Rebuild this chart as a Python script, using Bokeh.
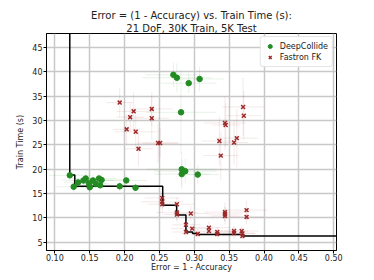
import numpy as np
from bokeh.plotting import figure
from bokeh.models import Range1d, FixedTicker, NumeralTickFormatter, ColumnDataSource, Legend, LegendItem, Title
from bokeh.embed import file_html
from bokeh.resources import INLINE

# DeepCollide: error, train time, error bars
dc_err = [0.1214, 0.127, 0.1333, 0.141, 0.1443, 0.149, 0.150, 0.1547, 0.1586, 0.1633, 0.167, 0.165, 0.193, 0.2024, 0.2157,
          0.270, 0.275, 0.292, 0.3076, 0.281,
          0.282, 0.282, 0.287, 0.305]
dc_time = [18.75, 16.4, 17.3, 17.7, 18.1, 17.1, 16.3, 17.7, 17.0, 18.1, 17.8, 16.7, 16.5, 17.7, 16.2,
           39.4, 38.8, 37.7, 38.55, 31.7,
           20.0, 19.0, 19.6, 18.9]
dc_xerr = [0.03, 0.025, 0.02, 0.03, 0.02, 0.025, 0.02, 0.03, 0.02, 0.025, 0.03, 0.02, 0.02, 0.03, 0.02,
           0.04, 0.05, 0.04, 0.035, 0.05,
           0.05, 0.04, 0.045, 0.03]
dc_yerr = [1.0, 1.2, 0.8, 1.0, 1.5, 0.8, 1.0, 1.2, 0.9, 1.0, 1.3, 0.8, 1.0, 1.2, 0.9,
           2.5, 3.0, 2.0, 2.5, 8.5,
           3.5, 3.0, 2.5, 2.0]

# Fastron FK
ff_err = [0.193, 0.213, 0.239, 0.208, 0.239, 0.203, 0.216, 0.248, 0.251, 0.220,
          0.370, 0.371, 0.344, 0.345, 0.336, 0.361, 0.357, 0.338,
          0.254, 0.254, 0.254, 0.275, 0.275, 0.275, 0.295, 0.288, 0.297, 0.288, 0.305,
          0.321, 0.321, 0.333, 0.333, 0.344, 0.344, 0.344, 0.375, 0.375, 0.357, 0.357,
          0.368, 0.369, 0.369]
ff_time = [33.7, 31.9, 32.4, 30.7, 30.5, 28.2, 27.7, 25.4, 25.4, 24.2,
           32.8, 31.0, 29.5, 29.1, 25.8, 26.4, 25.5, 22.8,
           14.1, 13.3, 12.8, 12.8, 11.1, 10.7, 10.9, 8.6, 7.8, 7.1, 6.7,
           8.0, 7.3, 7.1, 6.7, 11.2, 10.8, 10.4, 11.6, 10.2, 7.3, 6.9,
           7.3, 6.8, 6.3]
ff_xerr = [0.02, 0.025, 0.03, 0.02, 0.025, 0.02, 0.03, 0.03, 0.025, 0.02,
           0.03, 0.025, 0.03, 0.02, 0.025, 0.03, 0.02, 0.025,
           0.025, 0.03, 0.02, 0.025, 0.03, 0.02, 0.025, 0.02, 0.03, 0.02, 0.025,
           0.03, 0.02, 0.025, 0.03, 0.03, 0.025, 0.02, 0.03, 0.025, 0.02, 0.03,
           0.025, 0.02, 0.03]
ff_yerr = [3.0, 4.0, 3.5, 3.0, 4.5, 3.0, 3.5, 4.0, 3.0, 3.5,
           6.0, 5.0, 5.5, 4.5, 5.0, 6.0, 4.5, 5.0,
           2.0, 1.5, 1.8, 1.5, 2.0, 1.2, 1.5, 1.5, 1.2, 1.0, 1.0,
           1.2, 1.0, 1.0, 0.8, 2.0, 1.5, 1.8, 2.0, 1.5, 1.0, 1.2,
           1.0, 0.8, 0.8]

# Pareto front corner points
front_x = [0.1214, 0.1214, 0.1286, 0.2547, 0.2747, 0.288, 0.2976, 0.305, 0.369, 0.60]
front_y = [60.0, 18.8, 16.5, 12.6, 10.6, 7.1, 6.8, 6.6, 6.3, 6.3]

x_ticks = [0.10, 0.15, 0.20, 0.25, 0.30, 0.35, 0.40, 0.45, 0.50]
y_ticks = [5, 10, 15, 20, 25, 30, 35, 40, 45]

title_line1 = "Error = (1 - Accuracy) vs. Train Time (s):"
title_line2 = "21 DoF, 30K Train, 5K Test"

FONT = "DejaVu Sans"
GREEN = "#228b22"
RED = "#9e2a2a"

p = figure(width=358, height=278, output_backend="svg", toolbar_location=None,
           x_range=Range1d(0.088, 0.504), y_range=Range1d(3.3, 47.9),
           min_border_left=46, min_border_right=22, min_border_bottom=28, min_border_top=33,
           title=title_line1)
p.title.align = "center"
p.title.text_font = FONT
p.title.text_font_size = "10px"
p.title.text_font_style = "normal"
p.title.text_color = "#222222"
p.title.standoff = 0
t2 = Title(text=title_line2, align="center", text_font=FONT, text_font_size="10px",
           text_font_style="normal", text_color="#222222", standoff=0)
p.add_layout(t2, "above")

p.outline_line_color = "black"
p.outline_line_width = 1
p.background_fill_color = "white"
p.border_fill_color = "white"

for g in (p.xgrid, p.ygrid):
    g.grid_line_color = "#c8c8c8"
    g.grid_line_width = 1.5
p.xgrid.ticker = FixedTicker(ticks=x_ticks)
p.ygrid.ticker = FixedTicker(ticks=y_ticks)

p.xaxis.ticker = FixedTicker(ticks=x_ticks)
p.yaxis.ticker = FixedTicker(ticks=y_ticks)
p.xaxis.formatter = NumeralTickFormatter(format="0.00")
for ax in (p.xaxis, p.yaxis):
    ax.axis_line_color = "black"
    ax.major_tick_line_color = "black"
    ax.minor_tick_line_color = None
    ax.major_tick_in = 0
    ax.major_tick_out = 3
    ax.major_label_text_font = FONT
    ax.major_label_text_font_size = "8px"
    ax.major_label_text_color = "#222222"
    ax.axis_label_text_font = FONT
    ax.axis_label_text_font_size = "8px"
    ax.axis_label_text_font_style = "normal"
    ax.axis_label_text_color = "#222222"
    ax.major_label_standoff = 1
    ax.axis_label_standoff = 1
p.xaxis.major_label_standoff = 0
p.xaxis.axis_label_standoff = -1
p.yaxis.axis_label_standoff = 4
p.xaxis.axis_label = "Error = 1 - Accuracy"
p.yaxis.axis_label = "Train Time (s)"

dc = ColumnDataSource(dict(x=dc_err, y=dc_time,
                           x0=np.array(dc_err) - np.array(dc_xerr), x1=np.array(dc_err) + np.array(dc_xerr),
                           y0=np.array(dc_time) - np.array(dc_yerr), y1=np.array(dc_time) + np.array(dc_yerr)))
ff = ColumnDataSource(dict(x=ff_err, y=ff_time,
                           x0=np.array(ff_err) - np.array(ff_xerr), x1=np.array(ff_err) + np.array(ff_xerr),
                           y0=np.array(ff_time) - np.array(ff_yerr), y1=np.array(ff_time) + np.array(ff_yerr)))

p.segment(x0="x0", y0="y", x1="x1", y1="y", source=dc, line_color=GREEN, line_alpha=0.1, line_width=1)
p.segment(x0="x", y0="y0", x1="x", y1="y1", source=dc, line_color=GREEN, line_alpha=0.1, line_width=1)
p.segment(x0="x0", y0="y", x1="x1", y1="y", source=ff, line_color=RED, line_alpha=0.1, line_width=1)
p.segment(x0="x", y0="y0", x1="x", y1="y1", source=ff, line_color=RED, line_alpha=0.1, line_width=1)

p.step(front_x, front_y, mode="after", line_color="black", line_width=1.5)

r_dc = p.scatter("x", "y", source=dc, marker="circle", size=5.5, fill_color=GREEN, line_color=GREEN)
r_ff = p.scatter("x", "y", source=ff, marker="x", size=5.5, line_color=RED, line_width=1.5)

legend = Legend(items=[LegendItem(label="DeepCollide", renderers=[r_dc]),
                       LegendItem(label="Fastron FK", renderers=[r_ff])],
                location="top_right")
legend.label_text_font = FONT
legend.label_text_font_size = "8px"
legend.label_text_color = "#222222"
legend.glyph_width = 10
legend.glyph_height = 10
legend.label_height = 10
legend.spacing = 1
legend.padding = 4
legend.margin = 3
legend.border_line_color = "#cccccc"
legend.border_radius = 3
legend.background_fill_alpha = 0.9
p.add_layout(legend)

open("out.html", "w").write(file_html(p, INLINE))
